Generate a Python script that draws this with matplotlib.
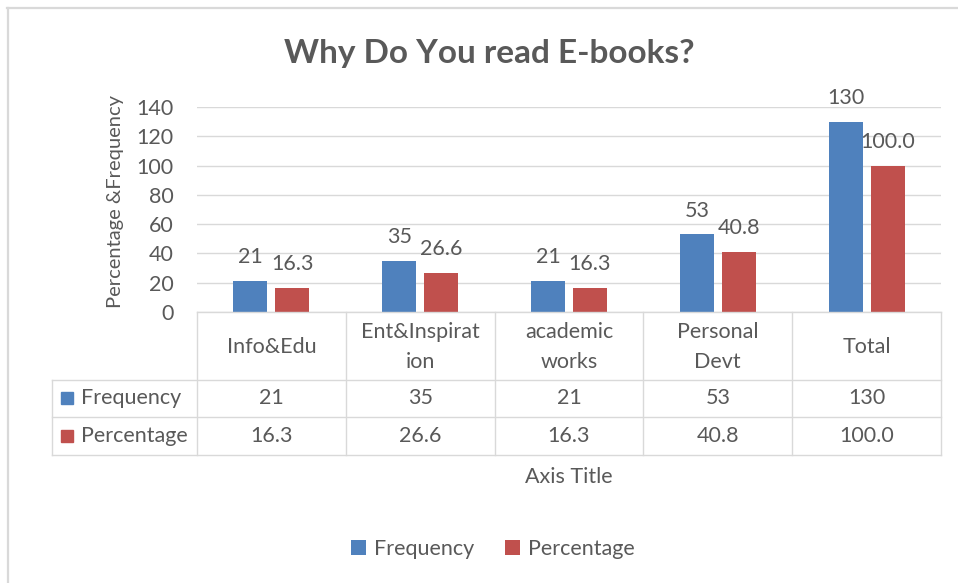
import matplotlib.pyplot as plt
import matplotlib.transforms as mtransforms
from matplotlib.lines import Line2D
from matplotlib.patches import Rectangle
import numpy as np

# data
categories = ["Info&Edu", "Ent&Inspirat\nion", "academic\nworks", "Personal\nDevt", "Total"]
frequency = [21, 35, 21, 53, 130]
percentage = [16.3, 26.6, 16.3, 40.8, 100.0]
series_names = ["Frequency", "Percentage"]

blue = "#4f81bd"
red = "#c0504d"
text_col = "#595959"
line_col = "#d9d9d9"
fs = 15.5

plt.rcParams['font.family'] = ['Lato', 'DejaVu Sans']

W, H = 958, 583
fig = plt.figure(figsize=(W / 100, H / 100), dpi=100)


# pixel -> figure fraction helpers
def fx(x):
    return x / W


def fy(y):
    return 1 - y / H


ax = fig.add_axes([fx(197), fy(312), fx(941) - fx(197), fy(107) - fy(312)])

x = np.arange(len(categories))
bw = 0.228
b1 = ax.bar(x - 0.141, frequency, bw, color=blue, label=series_names[0], zorder=3)
b2 = ax.bar(x + 0.141, percentage, bw, color=red, label=series_names[1], zorder=3)
ax.bar_label(b1, fmt='{:.0f}', padding=10, fontsize=fs, color=text_col)
ax.bar_label(b2, fmt='{:.1f}', padding=10, fontsize=fs, color=text_col)

ax.set_xlim(-0.5, len(categories) - 0.5)
ax.set_ylim(0, 140)
ax.set_yticks(range(0, 141, 20))
ax.set_xticks([])
ax.tick_params(axis='y', length=0, pad=17, labelsize=fs, labelcolor=text_col)
ax.grid(axis='y', color=line_col, linewidth=1, zorder=0)
for s in ax.spines.values():
    s.set_visible(False)

fig.text(fx(115), fy(202), "Percentage &Frequency", rotation=90, ha='center', va='center',
         fontsize=14.5, color=text_col)
fig.text(fx(489), fy(53), "Why Do You read E-books?", ha='center', va='center',
         fontsize=24, fontweight='bold', color=text_col)

# data table under the axis
rows_y = [312, 380, 417, 455]
blend = mtransforms.blended_transform_factory(ax.transData, fig.transFigure)
for y in rows_y:
    x0 = fx(197) if y == 312 else fx(52)
    fig.add_artist(Line2D([x0, fx(941)], [fy(y), fy(y)], color=line_col, lw=1))
for i in range(len(categories) + 1):
    fig.add_artist(Line2D([i - 0.5, i - 0.5], [fy(312), fy(455)], transform=blend,
                          color=line_col, lw=1))
fig.add_artist(Line2D([fx(52), fx(52)], [fy(380), fy(455)], color=line_col, lw=1))

for i, cat in enumerate(categories):
    fig.text(i, fy(347), cat, transform=blend, ha='center', va='center',
             fontsize=fs, color=text_col, linespacing=1.6)
    fig.text(i, fy(398), f"{frequency[i]:.0f}", transform=blend, ha='center', va='center',
             fontsize=fs, color=text_col)
    fig.text(i, fy(436), f"{percentage[i]:.1f}", transform=blend, ha='center', va='center',
             fontsize=fs, color=text_col)

for name, col, yc in [(series_names[0], blue, 398), (series_names[1], red, 436)]:
    fig.add_artist(Rectangle((fx(61), fy(yc + 6)), fx(12), 12 / H, color=col,
                             transform=fig.transFigure))
    fig.text(fx(81), fy(yc), name, ha='left', va='center', fontsize=fs, color=text_col)

fig.text(fx(569), fy(477), "Axis Title", ha='center', va='center', fontsize=fs, color=text_col)

fig.legend(handles=[b1, b2], loc='center', bbox_to_anchor=(fx(493), fy(549)), ncol=2,
           frameon=False, fontsize=fs, labelcolor=text_col, handlelength=0.7,
           handleheight=0.7, handletextpad=0.4, columnspacing=1.4)

# chart frame (top and left edges visible)
fig.add_artist(Line2D([fx(7), fx(958)], [fy(8), fy(8)], color=line_col, lw=1.6))
fig.add_artist(Line2D([fx(7.5), fx(7.5)], [fy(8), fy(583)], color=line_col, lw=1.6))

fig.savefig("out.png", dpi=100)
